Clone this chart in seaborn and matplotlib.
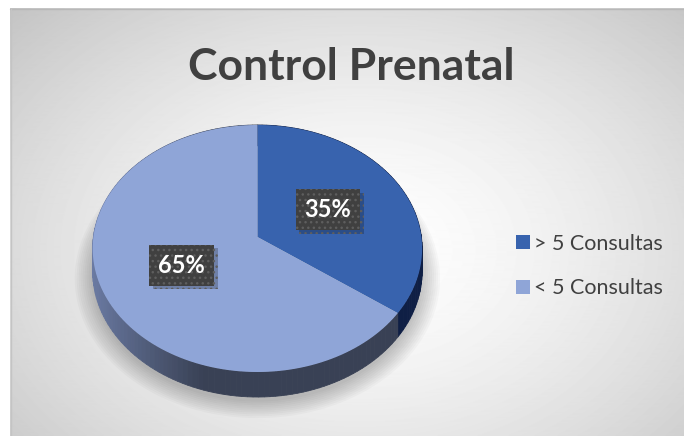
import numpy as np
import matplotlib
matplotlib.use("Agg")
import matplotlib.pyplot as plt
import matplotlib.patheffects as pe
from matplotlib.colors import to_rgb
import seaborn as sns

categories = ["> 5 Consultas", "< 5 Consultas"]
values = [35, 65]
top_colors = ["#3863AE", "#8FA5D7"]
side_dark = ["#0F1F45", "#394155"]
side_light = ["#2A4585", "#6C7CA5"]

sns.set_style("white")
plt.rcParams["font.family"] = ["Lato", "DejaVu Sans"]

W, H = 684, 436
fig = plt.figure(figsize=(W / 100, H / 100), dpi=100)
ax = fig.add_axes([0, 0, 1, 1])

# background gradient of the chart area
yy, xx = np.mgrid[9:H, 10:W] + 0.5
t = np.sqrt(((xx - 360) / 420) ** 2 + ((yy - 250) / 300) ** 2)
gray = np.clip(255 - 48 * t ** 1.5, 0, 255) / 255
ax.imshow(gray, cmap="gray", vmin=0, vmax=1, aspect="auto",
          extent=(10, W, H, 9), origin="upper", zorder=0)
ax.plot([10, W], [9.5, 9.5], color="#B8B8B8", lw=1, zorder=1)
ax.plot([10.5, 10.5], [9, H], color="#C4C4C4", lw=1, zorder=1)

# 3d pie in a perspective projection
cx, cy, R = 257.4, 237.0, 164.0
k, B, C = 0.093, -100.4, 22.7


def project(theta, r=1.0, z=0.0):
    u = r * np.sin(theta)
    v = r * np.cos(theta)
    d = 1 + k * v
    return cx + R * u / d, (cy + B * v - C * z) / d


def mix(c1, c2, w):
    a, b = np.array(to_rgb(c1)), np.array(to_rgb(c2))
    return tuple(a * (1 - w) + b * w)


fracs = np.array(values) / np.sum(values)
edges = np.concatenate([[0], np.cumsum(fracs)]) * 2 * np.pi

# soft shadow under the pie
for s in range(10):
    th = np.linspace(0, 2 * np.pi, 200)
    sx, sy = project(th, r=1.0 + 0.012 * s, z=-1.1)
    ax.fill(sx, sy + 2, color="black", alpha=0.025, lw=0, zorder=2)

# side walls, drawn far to near
quads = []
for i in range(len(values)):
    th = np.linspace(edges[i], edges[i + 1], int(200 * fracs[i]) + 2)
    for a, b in zip(th[:-1], th[1:]):
        x1, y1 = project(np.array([a, b]))
        x2, y2 = project(np.array([b, a]), z=-1)
        w = np.clip((-np.sin((a + b) / 2) - 0.3) / 0.7, 0, 1)
        quads.append((np.cos((a + b) / 2), np.r_[x1, x2], np.r_[y1, y2],
                      mix(side_dark[i], side_light[i], w)))
for _, qx, qy, c in sorted(quads, key=lambda q: -q[0]):
    ax.fill(qx, qy, color=c, lw=0.6, ec=c, zorder=3)

# top face
for i, cat in enumerate(categories):
    th = np.linspace(edges[i], edges[i + 1], 200)
    px, py = project(th)
    ax.fill(np.r_[cx, px], np.r_[cy, py], color=top_colors[i], lw=0,
            label=cat, zorder=4)

# data labels
for i in range(len(values)):
    lx, ly = project((edges[i] + edges[i + 1]) / 2, r=0.5)
    txt = ax.text(lx - 1, ly, f"{values[i]}%", fontsize=17, weight="bold",
                  color="white", ha="center", va="center", zorder=6,
                  bbox=dict(boxstyle="square,pad=0.38", fc="#404040",
                            ec="#5E5E5E", hatch="...", lw=0))
    txt.get_bbox_patch().set_path_effects([
        pe.SimplePatchShadow(offset=(2.5, -2.5), shadow_rgbFace="black", alpha=0.22),
        pe.Normal()])

ax.text(351, 80, "Control Prenatal", fontsize=32, weight="bold",
        color="#404040", ha="center", va="baseline", zorder=5)

ax.legend(loc="center left", bbox_to_anchor=(516, 266),
          bbox_transform=ax.transData, frameon=False, fontsize=15.5,
          handlelength=0.65, handleheight=0.65, handletextpad=0.2,
          labelspacing=1.15, borderpad=0, borderaxespad=0,
          labelcolor="#404040")

ax.set_xlim(0, W)
ax.set_ylim(H, 0)
ax.axis("off")
fig.savefig("out.png", dpi=100, facecolor="white")
